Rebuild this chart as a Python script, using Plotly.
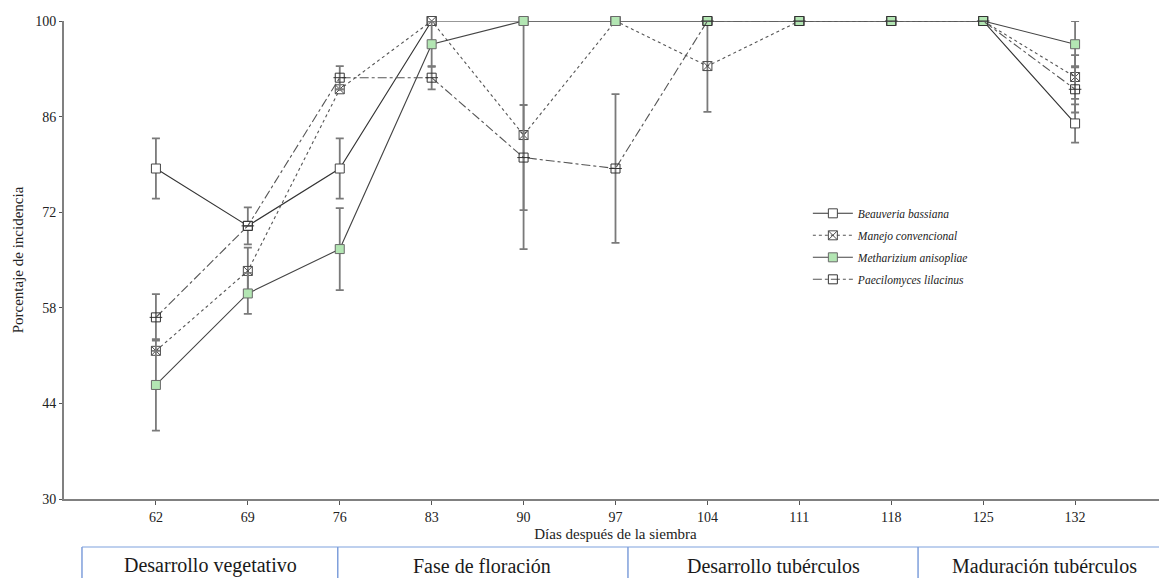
import plotly.graph_objects as go

days = [62, 69, 76, 83, 90, 97, 104, 111, 118, 125, 132]
tick_vals_y = [30, 44, 58, 72, 86, 100]

beauveria = [78.4, 70.0, 78.4, 100, 100, 100, 100, 100, 100, 100, 85.0]
beauveria_err = [4.4, 2.7, 4.4, 0, 0, 0, 0, 0, 0, 0, 2.8]
manejo = [51.7, 63.4, 90.0, 100, 83.3, 100, 93.4, 100, 100, 100, 91.8]
manejo_err = [0, 3.4, 0, 0, 16.7, 0, 6.7, 0, 0, 0, 3.2]
metharizium = [46.7, 60.1, 66.6, 96.6, 100, 100, 100, 100, 100, 100, 96.6]
metharizium_err = [6.7, 3.0, 6.0, 3.3, 0, 0, 0, 0, 0, 0, 3.4]
paecilomyces = [56.6, 70.0, 91.7, 91.7, 80.0, 78.4, 100, 100, 100, 100, 90.0]
paecilomyces_err = [3.4, 0, 1.7, 1.7, 7.7, 10.9, 0, 0, 0, 0, 3.4]

names = ["Beauveria bassiana", "Manejo convencional",
         "Metharizium anisopliae", "Paecilomyces lilacinus"]
phases = ["Desarrollo vegetativo", "Fase de floración",
          "Desarrollo tubérculos", "Maduración tubérculos"]

FONT = "Liberation Serif, Times New Roman, serif"
EB = dict(type="data", thickness=1.8, width=4, color="#7a7a7a")

fig = go.Figure()

def add(y, err, name, dash, color, symbol, fill, lcolor):
    fig.add_trace(go.Scatter(
        x=days, y=y, name=name, legendgroup=name, mode="lines+markers",
        line=dict(color=color, width=1.1, dash=dash),
        marker=dict(symbol=symbol, size=9, color=fill,
                    line=dict(color=lcolor, width=1.0)),
        error_y=dict(array=err, **EB), cliponaxis=False))

add(beauveria, beauveria_err, names[0], "solid", "#333333", "square", "white", "#444444")
add(manejo, manejo_err, names[1], "dot", "#555555", "square-x-open", "#4a4a4a", "#4a4a4a")
add(metharizium, metharizium_err, names[2], "solid", "#444444", "square", "#b3e6b3", "#6a6a6a")
add(paecilomyces, paecilomyces_err, names[3], "dashdot", "#555555", "square-open", "#333333", "#333333")
fig.add_trace(go.Scatter(
    x=days, y=paecilomyces, mode="markers", showlegend=False, hoverinfo="skip",
    legendgroup=names[3],
    marker=dict(symbol="line-ew-open", size=9, color="#333333",
                line=dict(color="#333333", width=1)), cliponaxis=False))

# phase boxes below the axis
y_top = -0.1004
y_bot = -0.17
fig.add_shape(type="line", xref="paper", yref="paper", x0=0.0163, x1=1.0,
              y0=y_top, y1=y_top, line=dict(color="#a9c1e9", width=1.5))
for xp in [0.0163, 0.2482, 0.5113, 0.7743]:
    fig.add_shape(type="line", xref="paper", yref="paper", x0=xp, x1=xp,
                  y0=y_top, y1=y_bot, line=dict(color="#7f9fdb", width=1.5))
for xc, txt in zip([0.1324, 0.379, 0.6428, 0.8885], phases):
    fig.add_annotation(xref="paper", yref="paper", x=xc, y=-0.14, text=txt,
                       showarrow=False, font=dict(family=FONT, size=20, color="#1a1a1a"),
                       xanchor="center", yanchor="middle")

fig.update_layout(
    width=1159, height=570,
    margin=dict(l=56, r=0, t=13, b=79),
    paper_bgcolor="white", plot_bgcolor="white",
    font=dict(family=FONT, size=14, color="#222222"),
    xaxis=dict(range=[55, 139], tickvals=days, ticks="outside", ticklen=4,
               tickcolor="#555555", showline=True, linecolor="#808080", linewidth=2,
               showgrid=False, zeroline=False,
               title=dict(text="Días después de la siembra", font=dict(size=15), standoff=5)),
    yaxis=dict(range=[30, 100], tickvals=tick_vals_y, ticks="outside", ticklen=3,
               tickcolor="#555555", showline=True, linecolor="#808080", linewidth=2,
               showgrid=False, zeroline=False,
               title=dict(text="Porcentaje de incidencia", font=dict(size=15), standoff=8)),
    legend=dict(x=0.6744, y=0.628, xanchor="left", yanchor="top",
                font=dict(family=FONT, size=11.5, style="italic", color="#222222"),
                bgcolor="rgba(0,0,0,0)", itemwidth=40, tracegroupgap=3),
    showlegend=True,
)

fig.write_html("out.html")
